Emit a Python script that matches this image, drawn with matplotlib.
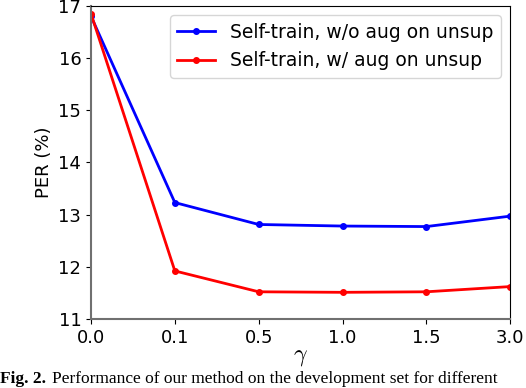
import numpy as np
import matplotlib
matplotlib.use("Agg")
import matplotlib.pyplot as plt

plt.rcParams['mathtext.fontset'] = 'cm'

# gamma values, plotted at equal spacing
gamma_labels = ["0.0", "0.1", "0.5", "1.0", "1.5", "3.0"]
per_wo_aug = [16.80, 13.23, 12.81, 12.78, 12.77, 12.97]
per_w_aug = [16.85, 11.92, 11.52, 11.51, 11.52, 11.62]

x = np.arange(len(gamma_labels))

fig = plt.figure(figsize=(5.26, 3.88), dpi=100)
ax = fig.add_axes([0.173, 0.178, 0.797, 0.807])

ax.plot(x, per_wo_aug, color='b', marker='o', markersize=4, linewidth=2,
        label="Self-train, w/o aug on unsup")
ax.plot(x, per_w_aug, color='r', marker='o', markersize=4, linewidth=2,
        label="Self-train, w/ aug on unsup")

ax.set_xlim(0, len(gamma_labels) - 1)
ax.set_ylim(11, 17)
ax.set_xticks(x)
ax.set_xticklabels(gamma_labels)
ax.set_yticks(np.arange(11, 18, 1))
ax.tick_params(labelsize=13)
ax.set_ylabel("PER (%)", fontsize=13)
ax.set_xlabel(r"$\gamma$", fontsize=17, labelpad=-2)
for side in ["left", "bottom"]:
    ax.spines[side].set_color("#707070")
    ax.spines[side].set_linewidth(1.5)
ax.legend(loc="upper right", fontsize=13.5, handlelength=2.0)

# caption of the paper figure
fig.text(0.0, 0.003, "Fig. 2.", fontsize=12.5, fontweight='bold',
         family='Liberation Serif', va='bottom', ha='left')
fig.text(52 / 526, 0.003, "Performance of our method on the development set for different",
         fontsize=12.5, family='Liberation Serif', va='bottom', ha='left')

fig.savefig("out.png", dpi=100)
